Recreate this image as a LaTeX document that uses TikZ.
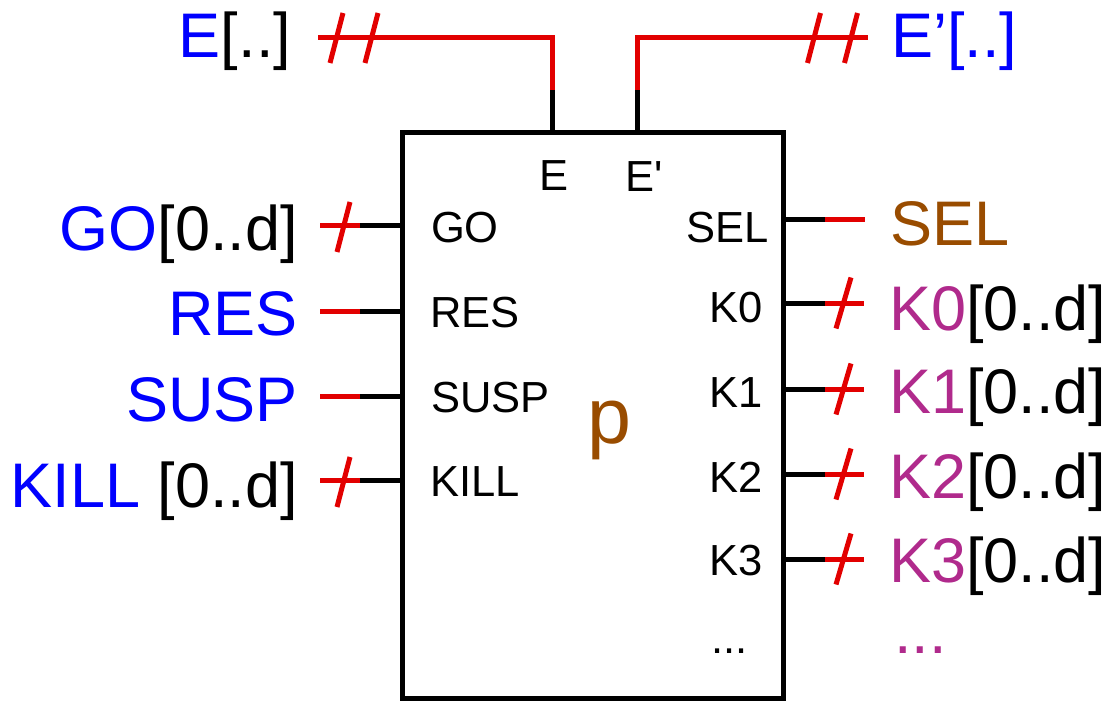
\documentclass[tikz,border=0pt]{standalone}
\usepackage{fontspec}
\setmainfont{Liberation Sans}
\newfontfamily\rawf{Liberation Sans}
\definecolor{wred}{RGB}{226,0,0}
\definecolor{lblue}{RGB}{0,0,255}
\definecolor{lbrown}{RGB}{153,76,0}
\definecolor{lmag}{RGB}{176,42,140}
\begin{document}
\begin{tikzpicture}[x=1pt,y=-1pt,
  big/.style={inner sep=0pt, outer sep=0pt, font=\fontsize{63}{70}\selectfont},
  small/.style={inner sep=0pt, outer sep=0pt, font=\fontsize{43.5}{48}\selectfont},
  blk/.style={line width=5pt, black},
  rw/.style={line width=5pt, wred},
  slashln/.style={line width=5pt, wred}]
\useasboundingbox (0,0) rectangle (1112,701);

% block
\node[draw, line width=5pt, minimum width=381pt, minimum height=566pt,
      anchor=north west, inner sep=0pt, outer sep=0pt] (box) at (402,132) {};
\node[inner sep=0pt, anchor=base west, font=\fontsize{79}{85}\selectfont, text=lbrown] (pname) at (587,443) {p};

% top wires
\coordinate (eP) at (552,132); \coordinate (eM) at (552,90);
\coordinate (eC) at (552,38);  \coordinate (eE) at (318,38);
\coordinate (fP) at (637,132); \coordinate (fM) at (637,90);
\coordinate (fC) at (637,38);  \coordinate (fE) at (868,38);
\draw[blk] (eP) -- (eM);
\draw[rw] (eM) -- (eC) -- (eE);
\draw[blk] (fP) -- (fM);
\draw[rw] (fM) -- (fC) -- (fE);
\foreach \sx in {336.5,371.5,814,851}
  \draw[slashln] ([shift={(-6.5,25)}]\sx,38) -- ([shift={(6.5,-25)}]\sx,38);
\node[big, anchor=base east] (eLab) at (291,58) {\textcolor{lblue}{E}[..]};
\node[big, anchor=base west, text=lblue] (fLab) at (891,58) {E’[..]};
\node[small, anchor=base west] (eIn) at (539,190) {E};
\node[small, anchor=base west] (fIn) at (625,191) {\rawf E'};

% left ports
\foreach \nm/\y/\sl in {go/225/1,res/311/0,susp/396/0,kill/480/1}{
  \coordinate (\nm P) at (402,\y);
  \coordinate (\nm M) at (360,\y);
  \coordinate (\nm E) at (320,\y);
  \draw[blk] (\nm P) -- (\nm M);
  \draw[rw] (\nm M) -- (\nm E);
  \ifnum\sl=1
    \draw[slashln] ([shift={(-6.5,27)}]343.5,\y) -- ([shift={(6.5,-23)}]343.5,\y);
  \fi
}
\node[big, anchor=base east] (goLab) at (298,250) {\textcolor{lblue}{GO}[0..d]};
\node[big, anchor=base east, text=lblue] (resLab) at (298,335) {RES};
\node[big, anchor=base east, text=lblue] (suspLab) at (298,421) {SUSP};
\node[big, anchor=base east] (killLab) at (298,507) {\textcolor{lblue}{KILL} [0..d]};
\node[small, anchor=base west] (goIn) at (431,242) {GO};
\node[small, anchor=base west] (resIn) at (430,327) {RES};
\node[small, anchor=base west] (suspIn) at (431,412) {SUSP};
\node[small, anchor=base west] (killIn) at (430,496) {KILL};

% right ports
\coordinate (selP) at (783,219); \coordinate (selM) at (825,219); \coordinate (selE) at (865,219);
\draw[blk] (selP) -- (selM);
\draw[rw] (selM) -- (selE);
\node[big, anchor=base west, text=lbrown] (selLab) at (890,245) {SEL};
\node[small, anchor=base east] (selIn) at (769,242) {SEL};
\foreach \k/\y/\by/\sy in {0/303/330/322,1/389/413/407,2/474/498/492,3/559/582/575}{
  \coordinate (k\k P) at (783,\y);
  \coordinate (k\k M) at (825,\y);
  \coordinate (k\k E) at (864,\y);
  \draw[blk] (k\k P) -- (k\k M);
  \draw[rw] (k\k M) -- (k\k E);
  \draw[slashln] ([shift={(-7.5,25.5)}]843.5,\y) -- ([shift={(7.5,-25.5)}]843.5,\y);
  \node[big, anchor=base west] (k\k Lab) at (889,\by) {\textcolor{lmag}{K\k}[0..d]};
  \node[small, anchor=base west] (k\k In) at (709,\sy) {K\k};
}
\node[small, anchor=base west] (dotsIn) at (711,653) {...};
\node[big, anchor=base west, text=lmag] (dotsLab) at (894,653) {...};
\end{tikzpicture}
\end{document}
